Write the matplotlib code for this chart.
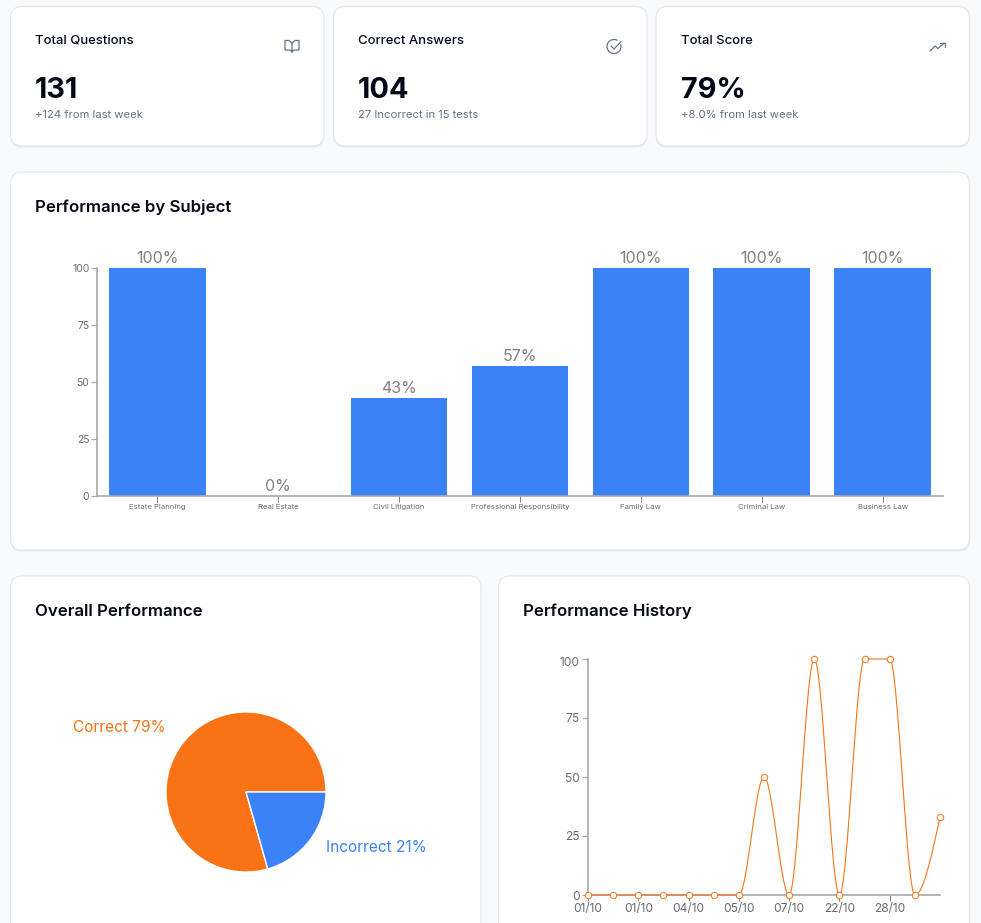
import numpy as np
import matplotlib
matplotlib.use('Agg')
import matplotlib.pyplot as plt
import matplotlib.patches as patches
from matplotlib.path import Path
from matplotlib.transforms import ScaledTranslation

plt.rcParams['font.family'] = ['Inter', 'DejaVu Sans']

W, H = 981, 923

# data
card_titles = ['Total Questions', 'Correct Answers', 'Total Score']
card_values = ['131', '104', '79%']
card_notes = ['+124 from last week', '27 Incorrect in 15 tests', '+8.0% from last week']

subjects = ['Estate Planning', 'Real Estate', 'Civil Litigation', 'Professional Responsibility',
            'Family Law', 'Criminal Law', 'Business Law']
subject_scores = [100, 0, 43, 57, 100, 100, 100]

pie_labels = ['Correct', 'Incorrect']
pie_values = [104, 27]

history_scores = [0, 0, 0, 0, 0, 0, 0, 50, 0, 100, 0, 100, 100, 0, 33]
history_ticks = [0, 2, 4, 6, 8, 10, 12]
history_dates = ['01/10', '01/10', '04/10', '05/10', '07/10', '22/10', '28/10']

ORANGE = '#f97316'
BLUE = '#3b82f6'
AXIS = '#a8a8a8'
TICK_TEXT = '#6b6b6b'
DARK = '#020817'
MUTED = '#64748b'


def axes_px(fig, left, top, right, bottom):
    """axes placed with pixel coordinates measured from the top left"""
    ax = fig.add_axes([left / W, 1 - bottom / H, (right - left) / W, (bottom - top) / H])
    ax.patch.set_alpha(0)
    return ax


def card(ax, x0, y0, x1, y1):
    r = 12
    box = 'round,pad=0,rounding_size=%d' % r
    for off, col in [(2, '#eef1f5'), (1, '#e3e7ed')]:
        ax.add_patch(patches.FancyBboxPatch((x0, y0 + off), x1 - x0, y1 - y0, boxstyle=box,
                                            facecolor=col, edgecolor='none'))
    ax.add_patch(patches.FancyBboxPatch((x0, y0), x1 - x0, y1 - y0, boxstyle=box,
                                        facecolor='white', edgecolor='#e2e8f0', linewidth=0.8))


def monotone_path(x, y):
    """same curve as d3 curveMonotoneX, as bezier segments"""
    x = np.asarray(x, dtype=float)
    y = np.asarray(y, dtype=float)
    h = np.diff(x)
    s = np.diff(y) / h
    t = np.zeros(len(x))
    for i in range(1, len(x) - 1):
        p = (s[i - 1] * h[i] + s[i] * h[i - 1]) / (h[i - 1] + h[i])
        t[i] = (np.sign(s[i - 1]) + np.sign(s[i])) * min(abs(s[i - 1]), abs(s[i]), 0.5 * abs(p))
    t[0] = (3 * s[0] - t[1]) / 2
    t[-1] = (3 * s[-1] - t[-2]) / 2
    verts = [(x[0], y[0])]
    codes = [Path.MOVETO]
    for i in range(len(h)):
        d = h[i] / 3
        verts += [(x[i] + d, y[i] + d * t[i]), (x[i + 1] - d, y[i + 1] - d * t[i + 1]), (x[i + 1], y[i + 1])]
        codes += [Path.CURVE4] * 3
    return Path(verts, codes)


fig = plt.figure(figsize=(W / 100, H / 100), dpi=100, facecolor='#f8fafc')

# background layer in pixels
bg = fig.add_axes([0, 0, 1, 1])
bg.set_xlim(0, W)
bg.set_ylim(H, 0)
bg.axis('off')

card(bg, 10.5, 6.5, 324, 146)
card(bg, 333.5, 6.5, 647, 146)
card(bg, 656, 6.5, 969.5, 146)
card(bg, 10.5, 172, 969.5, 550)
card(bg, 10.5, 576, 481, 960)
card(bg, 498.5, 576, 969.5, 960)

for x, title, value, note in zip([35, 358, 681], card_titles, card_values, card_notes):
    bg.text(x, 41, title, fontsize=9.4, color=DARK, weight=500, va='center', ha='left')
    bg.text(x, 90, value, fontsize=20.8, color=DARK, weight='bold', va='center', ha='left')
    bg.text(x, 115, note, fontsize=8.1, color=MUTED, va='center', ha='left')

bg.text(35, 207, 'Performance by Subject', fontsize=12.1, color=DARK, weight=600, va='center')
bg.text(35, 611, 'Overall Performance', fontsize=12.1, color=DARK, weight=600, va='center')
bg.text(523, 611, 'Performance History', fontsize=12.1, color=DARK, weight=600, va='center')

# icons
icon = dict(color=MUTED, linewidth=0.9, solid_capstyle='round', solid_joinstyle='round')
bg.plot([292, 292, 289, 285, 285, 290, 292, 294, 299, 299, 295, 292],
        [52, 43, 40.5, 40.5, 50, 50, 52, 50, 50, 40.5, 40.5, 43], **icon)
bg.add_patch(patches.Arc((614, 46.5), 14, 14, theta1=-20, theta2=300, edgecolor=MUTED, linewidth=0.9))
bg.plot([611, 614, 621], [46, 49, 41.5], **icon)
bg.plot([930, 935, 938, 944], [51, 46, 48.5, 43], **icon)
bg.plot([940, 944.5, 944.5], [43, 43, 47], **icon)

# bar chart
ax = axes_px(fig, 97, 268, 943, 496)
pos = np.arange(len(subjects))
bars = ax.bar(pos, subject_scores, width=0.8, color=BLUE)
for p, v in zip(pos, subject_scores):
    ax.annotate('%d%%' % v, (p, v), xytext=(0, 2), textcoords='offset pixels', ha='center', va='bottom',
                fontsize=11.5, color='#808080')
ax.set_xlim(-0.5, 6.5)
ax.set_ylim(0, 100)
ax.set_yticks([0, 25, 50, 75, 100])
ax.set_xticks(pos)
ax.set_xticklabels(subjects)
ax.tick_params(axis='x', length=4, width=0.7, color='#808080', labelsize=5.6, labelcolor=TICK_TEXT, pad=1.8)
ax.tick_params(axis='y', length=4, width=0.9, color=AXIS, labelsize=7.5, labelcolor=TICK_TEXT, pad=1.5)
for side in ['top', 'right']:
    ax.spines[side].set_visible(False)
for side in ['left', 'bottom']:
    ax.spines[side].set_color(AXIS)
    ax.spines[side].set_linewidth(1.2)

# pie chart
ax = axes_px(fig, 166, 712, 326, 872)
ax.pie(pie_values, colors=[ORANGE, BLUE], startangle=0, radius=1,
       wedgeprops=dict(edgecolor='white', linewidth=1))
ax.set_xlim(-1, 1)
ax.set_ylim(-1, 1)
total = sum(pie_values)
bg.text(166, 727.5, '%s %d%%' % (pie_labels[0], round(100 * pie_values[0] / total)), fontsize=11.1,
        color=ORANGE, ha='right', va='center')
bg.text(326, 847.5, '%s %d%%' % (pie_labels[1], round(100 * pie_values[1] / total)), fontsize=11.1,
        color=BLUE, ha='left', va='center')

# history line
ax = axes_px(fig, 588, 659, 940, 895)
idx = np.arange(len(history_scores))
ax.add_patch(patches.PathPatch(monotone_path(idx, history_scores), facecolor='none', edgecolor=ORANGE,
                               linewidth=0.8, clip_on=False, zorder=3))
ax.plot(idx, history_scores, linestyle='none', marker='o', markersize=4.6, markerfacecolor='white',
        markeredgecolor=ORANGE, markeredgewidth=0.7, clip_on=False, zorder=4)
ax.set_xlim(0, len(history_scores) - 1)
ax.set_ylim(0, 100)
ax.set_yticks([0, 25, 50, 75, 100])
ax.set_xticks(history_ticks)
ax.set_xticklabels(history_dates)
ax.tick_params(axis='x', length=4, width=0.7, color='#808080', labelsize=8.6, labelcolor=TICK_TEXT, pad=1.6)
ax.tick_params(axis='y', length=4, width=0.9, color=AXIS, labelsize=8.6, labelcolor=TICK_TEXT, pad=2)
# top label sits a little lower than its tick
top_label = ax.get_yticklabels()[-1]
top_label.set_transform(top_label.get_transform() + ScaledTranslation(0, -3 / 100, fig.dpi_scale_trans))
for side in ['top', 'right']:
    ax.spines[side].set_visible(False)
for side in ['left', 'bottom']:
    ax.spines[side].set_color(AXIS)
    ax.spines[side].set_linewidth(1.2)

fig.savefig('out.png', dpi=100, facecolor=fig.get_facecolor())
